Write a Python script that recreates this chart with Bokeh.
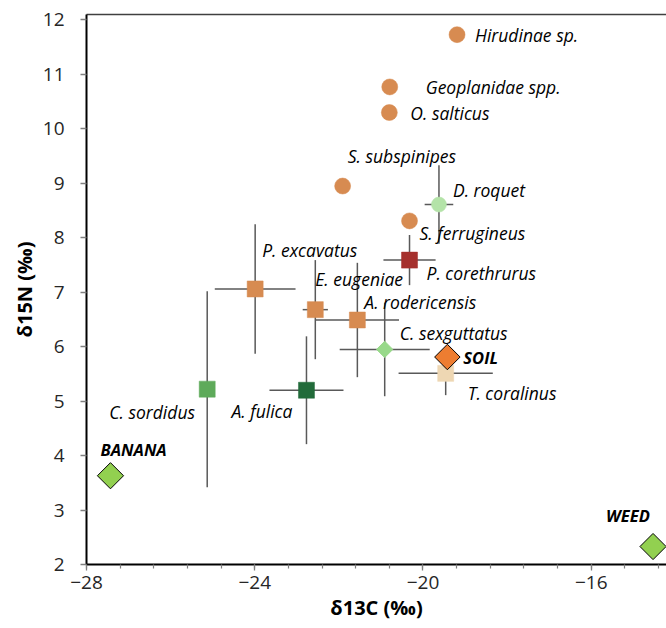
from bokeh.plotting import figure
from bokeh.models import ColumnDataSource, Range1d, SingleIntervalTicker, LinearAxis, FixedTicker
from bokeh.core.properties import value
from bokeh.embed import file_html
from bokeh.resources import INLINE
import math

# ---------------- data ----------------
names = ["Hirudinae sp.", "Geoplanidae spp.", "O. salticus", "S. subspinipes", "S. ferrugineus",
         "D. roquet", "P. corethrurus", "P. excavatus", "E. eugeniae", "A. rodericensis",
         "C. sexguttatus", "T. coralinus", "C. sordidus", "A. fulica", "SOIL", "BANANA", "WEED"]
d13C = [-19.19, -20.79, -20.80, -21.91, -20.32, -19.62, -20.32, -23.99, -22.56, -21.56,
        -20.91, -19.46, -25.13, -22.77, -19.42, -27.43, -14.53]
d15N = [11.73, 10.77, 10.30, 8.95, 8.31, 8.61, 7.59, 7.06, 6.68, 6.49,
        5.95, 5.51, 5.22, 5.20, 5.81, 3.63, 2.33]
sd13C = [0, 0, 0, 0, 0, 0.34, 0.62, 0.96, 0.30, 0.99, 1.07, 1.12, 0, 0.88, 0, 0, 0]
sd15N = [0, 0, 0, 0, 0, 0.72, 0.46, 1.19, 0.91, 1.05, 0.86, 0.40, 1.80, 0.99, 0, 0, 0]
x_ticks_interval = 4
y_ticks_interval = 1

# ---------------- styles ----------------
ORANGE = "#D78B51"
style = {
    "Hirudinae sp.":    ("circle", ORANGE, 16, None),
    "Geoplanidae spp.": ("circle", ORANGE, 16, None),
    "O. salticus":      ("circle", ORANGE, 16, None),
    "S. subspinipes":   ("circle", ORANGE, 16, None),
    "S. ferrugineus":   ("circle", ORANGE, 16, None),
    "D. roquet":        ("circle", "#B4E3A8", 15, None),
    "P. corethrurus":   ("square", "#A5302D", 16, None),
    "P. excavatus":     ("square", ORANGE, 16, None),
    "E. eugeniae":      ("square", ORANGE, 16, None),
    "A. rodericensis":  ("square", ORANGE, 16, None),
    "C. sexguttatus":   ("diamond", "#98D98A", 11.5, None),
    "T. coralinus":     ("square", "#EED7B3", 16, None),
    "C. sordidus":      ("square", "#5EAA5A", 16, None),
    "A. fulica":        ("square", "#226B3A", 16, None),
    "SOIL":             ("diamond", "#ED7D31", 18, "black"),
    "BANANA":           ("diamond", "#92D050", 18.5, "black"),
    "WEED":             ("diamond", "#92D050", 18.5, "black"),
}
# label offsets in screen pixels (dx, dy), left-aligned, vertically centred
offsets = {
    "Hirudinae sp.": (18, 0), "Geoplanidae spp.": (36, 0), "O. salticus": (21, 0),
    "S. subspinipes": (5, -30), "D. roquet": (14, -15), "S. ferrugineus": (10, 12),
    "P. excavatus": (7, -39), "P. corethrurus": (17, 13), "E. eugeniae": (0, -31),
    "A. rodericensis": (7, -18), "C. sexguttatus": (15, -16), "SOIL": (16, 0),
    "T. coralinus": (22, 20), "C. sordidus": (-98, 23), "A. fulica": (-75, 21),
    "BANANA": (-10, -26), "WEED": (-47, -31),
}
REFS = ["SOIL", "BANANA", "WEED"]
FONT = "Open Sans"
ERR = "#595959"

p = figure(width=666, height=628, output_backend="svg", toolbar_location=None,
           x_range=Range1d(-28, -14.21), y_range=Range1d(2, 12.1),
           min_border_left=86, min_border_right=0, min_border_top=14, min_border_bottom=64)
p.background_fill_color = "white"
p.border_fill_color = "white"
p.outline_line_color = None
p.xgrid.visible = False
p.ygrid.visible = False

# error bars
hx0, hx1, hy, vx, vy0, vy1 = [], [], [], [], [], []
for x, y, sx, sy in zip(d13C, d15N, sd13C, sd15N):
    if sx > 0:
        hx0.append(x - sx); hx1.append(x + sx); hy.append(y)
    if sy > 0:
        vx.append(x); vy0.append(y - sy); vy1.append(y + sy)
p.segment(x0=hx0, y0=hy, x1=hx1, y1=hy, line_color=ERR, line_width=1.5)
p.segment(x0=vx, y0=vy0, x1=vx, y1=vy1, line_color=ERR, line_width=1.5)

# markers
for kind in ["circle", "square", "diamond"]:
    xs, ys, cs, ss, lc = [], [], [], [], []
    for n, x, y in zip(names, d13C, d15N):
        m, c, s, o = style[n]
        if m == kind:
            xs.append(x); ys.append(y); cs.append(c); ss.append(s)
            lc.append(o if o else c)
    src = ColumnDataSource(dict(x=xs, y=ys, c=cs, s=ss, lc=lc))
    if kind == "circle":
        p.scatter("x", "y", source=src, marker="circle", size="s", fill_color="c", line_color="c", line_width=0.5)
    elif kind == "square":
        p.scatter("x", "y", source=src, marker="square", size="s", fill_color="c", line_color="c", line_width=0.5)
    else:
        p.scatter("x", "y", source=src, marker="square", size="s", angle=math.pi / 4,
                  fill_color="c", line_color="lc", line_width=1)

# labels
for group, style_name, fsize in [([n for n in names if n not in REFS], "italic", "17.5px"),
                                 (REFS, "bold italic", "16.5px")]:
    xs = [d13C[names.index(n)] for n in group]
    ys = [d15N[names.index(n)] for n in group]
    dx = [offsets[n][0] for n in group]
    dy = [offsets[n][1] for n in group]
    src = ColumnDataSource(dict(x=xs, y=ys, t=group, dx=dx, dy=dy))
    p.text("x", "y", text="t", x_offset="dx", y_offset="dy", source=src,
           text_font=value(FONT), text_font_style=style_name, text_font_size=fsize,
           text_color="black", text_align="left", text_baseline="middle")

# axes
for ax in [p.xaxis[0], p.yaxis[0]]:
    ax.axis_line_color = "black"
    ax.axis_line_width = 2
    ax.major_tick_line_color = "#7F7F7F"
    ax.major_tick_line_width = 1.3
    ax.major_tick_in = 0
    ax.major_tick_out = 6
    ax.major_label_text_font = FONT
    ax.major_label_text_font_size = "19px"
    ax.major_label_text_color = "#262626"
    ax.axis_label_text_font = FONT
    ax.axis_label_text_font_size = "20px"
    ax.axis_label_text_font_style = "bold"
    ax.axis_label_text_color = "black"

p.xaxis.ticker = SingleIntervalTicker(interval=x_ticks_interval, num_minor_ticks=5)
p.xaxis.minor_tick_line_color = "#7F7F7F"
p.xaxis.minor_tick_in = 0
p.xaxis.minor_tick_out = 4
p.xaxis.minor_tick_line_width = 1.2
p.xaxis.major_label_standoff = 5
p.xaxis.axis_label = "δ13C (‰)"
p.xaxis.axis_label_standoff = 2

p.yaxis.ticker = SingleIntervalTicker(interval=y_ticks_interval, num_minor_ticks=0)
p.yaxis.minor_tick_line_color = None
p.yaxis.major_label_standoff = 16
p.yaxis.axis_label = "δ15N (‰)"
p.yaxis.axis_label_standoff = 2

top = LinearAxis(ticker=FixedTicker(ticks=[]), axis_line_color="#404040", axis_line_width=1.5,
                 major_tick_out=0, major_tick_in=0, minor_tick_out=0, minor_tick_in=0,
                 major_label_text_font_size="0px", major_label_standoff=0)
p.add_layout(top, "above")

open("out.html", "w").write(file_html(p, INLINE))
